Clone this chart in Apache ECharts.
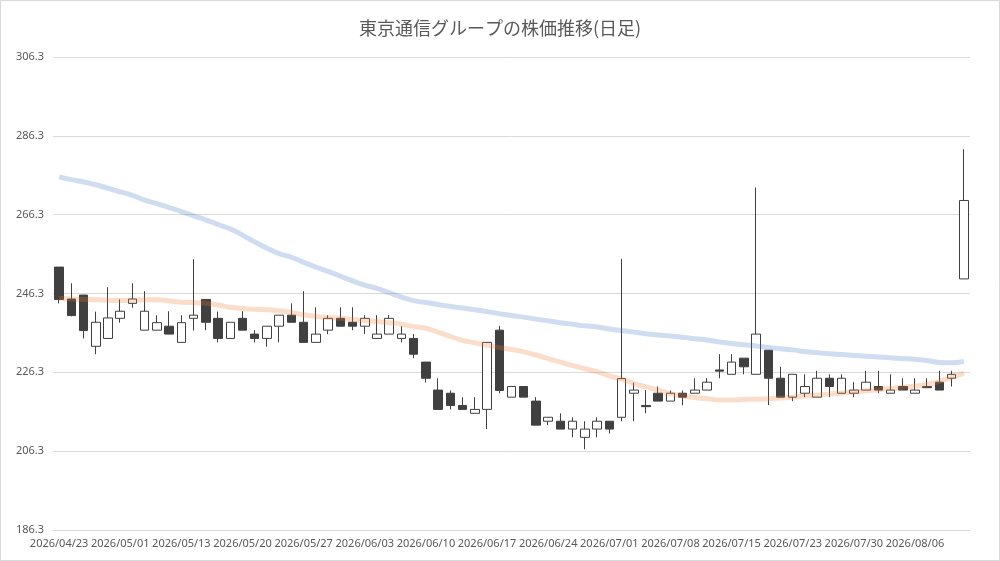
<!DOCTYPE html>
<html>
<head>
<meta charset="utf-8">
<script src="https://cdn.jsdelivr.net/npm/echarts@6/dist/echarts.min.js"></script>
<style>
html,body{margin:0;padding:0;background:#fff;}
#c{width:1000px;height:561px;}
</style>
</head>
<body>
<div id="c"></div>
<script>
var titleText = '東京通信グループの株価推移(日足)';
var dates = ['2026/04/23','2026/04/24','2026/04/27','2026/04/28','2026/04/30','2026/05/01','2026/05/07','2026/05/08','2026/05/11','2026/05/12',
'2026/05/13','2026/05/14','2026/05/15','2026/05/18','2026/05/19','2026/05/20','2026/05/21','2026/05/22','2026/05/25','2026/05/26',
'2026/05/27','2026/05/28','2026/05/29','2026/06/01','2026/06/02','2026/06/03','2026/06/04','2026/06/05','2026/06/08','2026/06/09',
'2026/06/10','2026/06/11','2026/06/12','2026/06/15','2026/06/16','2026/06/17','2026/06/18','2026/06/19','2026/06/22','2026/06/23',
'2026/06/24','2026/06/25','2026/06/26','2026/06/29','2026/06/30','2026/07/01','2026/07/02','2026/07/03','2026/07/06','2026/07/07',
'2026/07/08','2026/07/09','2026/07/10','2026/07/13','2026/07/14','2026/07/15','2026/07/16','2026/07/17','2026/07/21','2026/07/22',
'2026/07/23','2026/07/24','2026/07/27','2026/07/28','2026/07/29','2026/07/30','2026/07/31','2026/08/03','2026/08/04','2026/08/05',
'2026/08/06','2026/08/07','2026/08/10','2026/08/12','2026/08/13'];
// [open, close, low, high]
var ohlc = [
[253.0,244.8,243.8,253.0],[244.9,240.7,240.5,248.9],[245.9,236.9,234.9,245.9],[232.9,239.0,230.9,241.7],[234.9,240.1,234.9,247.9],
[240.0,241.8,238.9,244.8],[243.8,244.9,242.7,248.9],[237.0,241.8,237.0,246.9],[237.0,238.9,237.0,240.8],[238.0,236.0,236.0,241.8],
[233.9,238.9,233.9,240.8],[240.0,240.8,236.9,255.0],[244.8,239.0,237.0,244.8],[240.0,234.9,233.9,241.7],[234.9,239.0,234.9,239.0],
[240.0,237.0,237.0,241.8],[236.0,234.9,233.9,237.0],[234.9,238.0,232.8,238.0],[238.0,240.8,233.9,240.8],[240.8,239.0,239.0,243.8],
[239.0,233.9,233.9,246.9],[233.9,236.0,233.9,242.8],[237.0,240.0,236.0,240.8],[240.0,238.0,238.0,242.8],[239.0,238.0,237.0,242.8],
[238.0,240.0,236.0,240.8],[234.9,236.0,234.9,240.8],[236.0,240.0,236.0,240.8],[234.9,236.0,233.9,238.0],[234.9,230.9,229.9,236.0],
[228.9,224.8,223.7,228.9],[221.8,216.9,216.9,224.8],[221.0,217.9,216.9,221.7],[217.9,216.9,216.9,220.0],[215.9,216.9,215.9,220.0],
[216.9,233.9,211.9,233.9],[237.0,221.7,221.0,238.1],[220.0,222.7,220.0,222.7],[222.7,220.0,220.0,222.7],[219.0,212.9,212.9,220.0],
[213.9,214.9,212.9,214.9],[213.9,211.9,211.9,215.9],[211.9,213.9,209.8,214.9],[209.8,211.9,206.8,213.9],[211.9,213.9,209.8,214.9],
[213.9,211.9,210.8,213.9],[214.9,224.7,213.9,255.1],[221.0,221.8,213.9,223.7],[217.9,217.6,215.9,221.8],[221.0,219.0,219.0,222.7],
[219.0,221.0,219.0,221.7],[221.0,220.0,217.9,221.7],[221.0,221.8,221.0,224.8],[221.8,223.8,221.8,224.8],[226.9,226.6,224.8,230.9],
[225.8,228.9,225.8,230.9],[229.9,227.7,225.8,229.9],[225.8,236.0,225.8,273.2],[231.9,224.8,218.0,231.9],[224.8,220.0,220.0,227.7],
[220.0,225.8,219.0,225.8],[221.0,222.7,220.0,225.8],[220.0,224.8,220.0,226.7],[224.8,222.7,220.0,225.8],[221.0,224.8,221.0,225.8],
[221.0,221.8,220.0,223.8],[221.8,223.8,221.8,226.7],[222.7,221.8,221.0,226.7],[221.0,221.8,221.0,225.8],[222.7,221.8,221.8,224.8],
[221.0,221.8,221.0,224.8],[222.7,222.4,222.4,224.8],[223.8,221.8,221.8,226.7],[224.8,225.8,222.7,226.7],[250.0,269.9,250.0,282.9]
];
var maLong = [275.9,275.2,274.6,273.9,273.0,272.1,271.2,270.0,269.1,268.1,
267.1,266.0,265.0,263.8,262.7,261.1,259.4,257.8,256.4,255.5,
254.2,253.0,251.9,250.7,249.5,248.4,247.6,246.5,245.4,244.5,
244.0,243.5,243.0,242.6,242.2,241.7,241.2,240.7,240.3,239.8,
239.4,238.9,238.5,238.1,237.8,237.3,236.9,236.5,236.1,235.8,
235.5,235.2,234.8,234.5,234.0,233.6,233.3,233.0,232.6,232.3,
232.0,231.6,231.3,231.0,230.8,230.6,230.4,230.2,230.0,229.8,
229.6,229.3,228.8,228.7,229.1];
var maShort = [245.1,244.9,244.8,244.7,244.6,244.5,244.6,244.7,244.7,244.4,
244.1,244.0,243.8,243.4,242.8,242.5,242.3,242.2,241.9,241.5,
240.9,240.5,240.2,240.0,239.7,239.4,239.2,238.9,238.5,237.9,
237.5,236.5,235.4,234.4,233.8,233.2,232.6,232.1,231.5,230.7,
229.8,228.9,228.0,227.2,226.5,225.4,224.6,223.5,222.6,221.8,
220.9,220.3,219.9,219.6,219.3,219.3,219.4,219.5,219.6,219.8,
220.0,220.3,220.5,220.8,221.0,221.3,221.6,221.9,222.2,222.5,
222.8,223.2,224.0,225.0,226.1];
var yMin = 186.3, yMax = 306.3, yStep = 20;

var chart = echarts.init(document.getElementById('c'), null, {renderer:'canvas'});
chart.setOption({
  animation:false,
  backgroundColor:'#fff',
  title:{text:titleText,left:'center',top:14,textStyle:{fontFamily:'Noto Sans CJK JP',fontSize:18,fontWeight:'normal',color:'#595959'}},
  graphic:[{type:'rect',shape:{x:0.5,y:0.5,width:999,height:560},style:{fill:'none',stroke:'#d9d9d9',lineWidth:1},silent:true}],
  grid:{left:53,right:30,top:57,bottom:31,containLabel:false},
  xAxis:{type:'category',data:dates,boundaryGap:true,
    axisLine:{lineStyle:{color:'#d9d9d9'}},
    axisTick:{interval:0,length:4,lineStyle:{color:'#d9d9d9'}},
    axisLabel:{interval:4,color:'#595959',fontSize:11,fontFamily:'Noto Sans',margin:8},
    splitLine:{show:false}},
  yAxis:{type:'value',min:yMin,max:yMax,interval:yStep,
    axisLine:{show:false},axisTick:{show:false},
    axisLabel:{color:'#595959',fontSize:11,fontFamily:'Noto Sans',margin:9,formatter:function(v){return v.toFixed(1);}},
    splitLine:{lineStyle:{color:'#d9d9d9'}}},
  series:[
    {type:'candlestick',data:ohlc,barWidth:9,
      itemStyle:{color:'#ffffff',color0:'#404040',borderColor:'#404040',borderColor0:'#404040',borderWidth:1}},
    {type:'line',data:maLong,symbol:'none',smooth:true,lineStyle:{color:'#4472C4',width:5,opacity:0.25},z:3},
    {type:'line',data:maShort,symbol:'none',smooth:true,lineStyle:{color:'#ED7D31',width:5,opacity:0.25},z:3}
  ]
});
</script>
</body>
</html>
